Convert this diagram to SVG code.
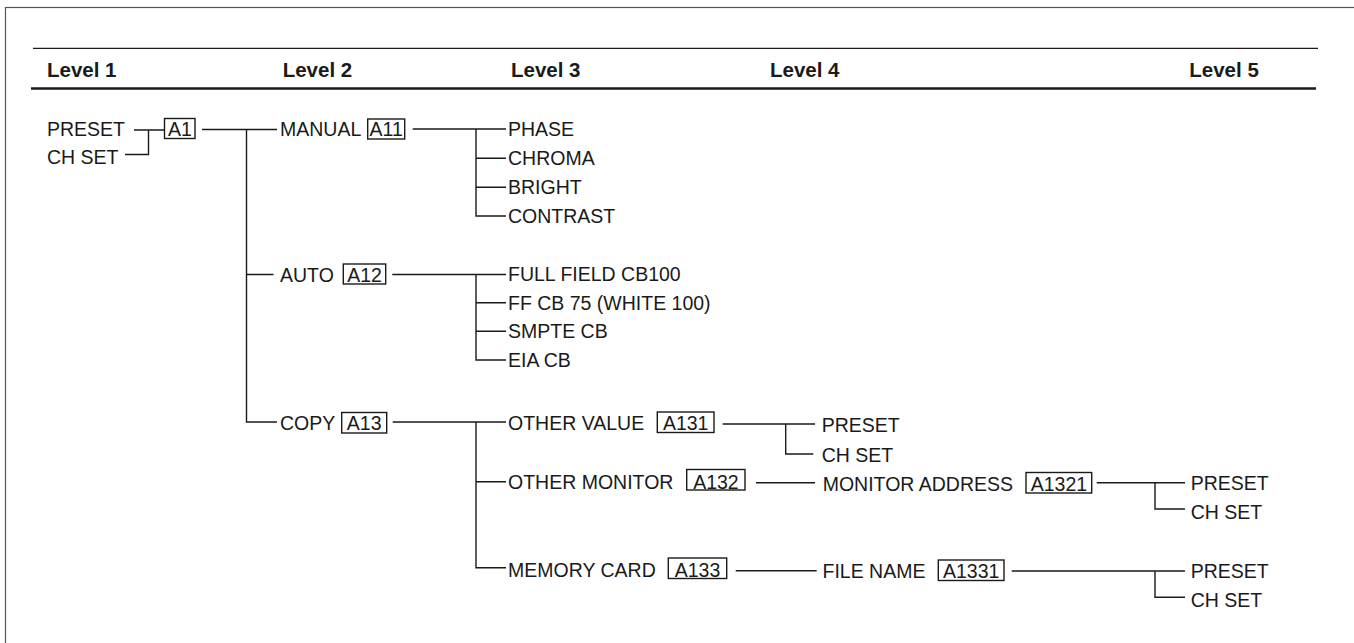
<svg xmlns="http://www.w3.org/2000/svg" width="1354" height="643" viewBox="0 0 1354 643">
<style>
text{font-family:"Liberation Sans",Arial,Helvetica,sans-serif;fill:#1a1a1a}
.h{font-size:20.5px;font-weight:bold}
.t{font-size:19.5px}
.b{font-size:19.5px;text-anchor:middle}
.bx{fill:none;stroke:#1a1a1a;stroke-width:1.4}
.c{fill:none;stroke:#1a1a1a;stroke-width:1.4}
</style>
<rect x="5.5" y="7.5" width="1400" height="700" fill="none" stroke="#555" stroke-width="1.2"/>
<g id="header">
<line x1="33" y1="48.3" x2="1318" y2="48.3" stroke="#1a1a1a" stroke-width="1.3"/>
<line x1="31" y1="88.5" x2="1316" y2="88.5" stroke="#1a1a1a" stroke-width="2.4"/>
<text class="h" x="47" y="77.3">Level 1</text>
<text class="h" x="282.7" y="77.3">Level 2</text>
<text class="h" x="511" y="77.3">Level 3</text>
<text class="h" x="770" y="77.3">Level 4</text>
<text class="h" x="1189.3" y="77.3">Level 5</text>
</g>
<g id="connectors">
<path class="c" d="M134 130H164.5M148.5 130V154.5H125"/>
<path class="c" d="M202 129.5H277M246.5 129.5V422H277M246.5 274.5H273.5"/>
<path class="c" d="M412.7 129H506M476 129V216H506M476 158.3H506M476 187.3H506"/>
<path class="c" d="M392.3 274.5H506M476 274.5V360H506M476 302.7H506M476 331.3H506"/>
<path class="c" d="M392.7 422H506M476 422V567.7H506M476 481.7H506"/>
<path class="c" d="M722.7 424H815M785.7 424V454H813.3"/>
<path class="c" d="M756 482.7H815"/>
<path class="c" d="M735.7 570.7H816.7"/>
<path class="c" d="M1096.7 482.7H1185M1155 482.7V509H1185"/>
<path class="c" d="M1011.7 571H1185M1155 571V597.3H1185"/>
</g>
<g id="l1-preset"><text class="t" x="47" y="136">PRESET</text></g>
<g id="l1-chset"><text class="t" x="47" y="164">CH SET</text></g>
<g id="a1"><rect class="bx" x="164.5" y="118.5" width="30.5" height="20"/><text class="b" x="180" y="136">A1</text></g>
<g id="manual"><text class="t" x="280" y="136">MANUAL</text><rect class="bx" x="367.7" y="119" width="37" height="20"/><text class="b" x="386.2" y="136">A11</text></g>
<g id="phase"><text class="t" x="508" y="136">PHASE</text></g>
<g id="chroma"><text class="t" x="508" y="165.3">CHROMA</text></g>
<g id="bright"><text class="t" x="508" y="194.3">BRIGHT</text></g>
<g id="contrast"><text class="t" x="508" y="223.3">CONTRAST</text></g>
<g id="auto"><text class="t" x="280" y="281.5">AUTO</text><rect class="bx" x="343.3" y="264" width="42.4" height="20"/><text class="b" x="364.5" y="281.5">A12</text></g>
<g id="fullfield"><text class="t" x="508" y="281.3">FULL FIELD CB100</text></g>
<g id="ffcb75"><text class="t" x="508" y="309.7">FF CB 75 (WHITE 100)</text></g>
<g id="smpte"><text class="t" x="508" y="338.3">SMPTE CB</text></g>
<g id="eia"><text class="t" x="508" y="367">EIA CB</text></g>
<g id="copy"><text class="t" x="280" y="430">COPY</text><rect class="bx" x="341.7" y="412.5" width="45" height="20.5"/><text class="b" x="364.2" y="430">A13</text></g>
<g id="othervalue"><text class="t" x="508" y="430">OTHER VALUE</text><rect class="bx" x="657.3" y="412" width="56.7" height="20.5"/><text class="b" x="685.7" y="430">A131</text></g>
<g id="ov-preset"><text class="t" x="821.7" y="432.3">PRESET</text></g>
<g id="ov-chset"><text class="t" x="821.7" y="461.7">CH SET</text></g>
<g id="othermonitor"><text class="t" x="508" y="489">OTHER MONITOR</text><rect class="bx" x="686.7" y="469.5" width="58.3" height="20.5"/><text class="b" x="715.9" y="489">A132</text></g>
<g id="monitoraddress"><text class="t" x="822.7" y="490.5">MONITOR ADDRESS</text><rect class="bx" x="1026" y="472.5" width="65.7" height="20.5"/><text class="b" x="1058.9" y="490.5">A1321</text></g>
<g id="ma-preset"><text class="t" x="1190.7" y="490">PRESET</text></g>
<g id="ma-chset"><text class="t" x="1190.7" y="519.3">CH SET</text></g>
<g id="memorycard"><text class="t" x="508" y="576.5">MEMORY CARD</text><rect class="bx" x="668.3" y="558" width="58.4" height="20.5"/><text class="b" x="697.5" y="576.5">A133</text></g>
<g id="filename"><text class="t" x="822.5" y="577.5">FILE NAME</text><rect class="bx" x="938.3" y="560" width="65.7" height="20.5"/><text class="b" x="971.2" y="577.5">A1331</text></g>
<g id="fn-preset"><text class="t" x="1190.7" y="578.3">PRESET</text></g>
<g id="fn-chset"><text class="t" x="1190.7" y="607.3">CH SET</text></g>
</svg>
